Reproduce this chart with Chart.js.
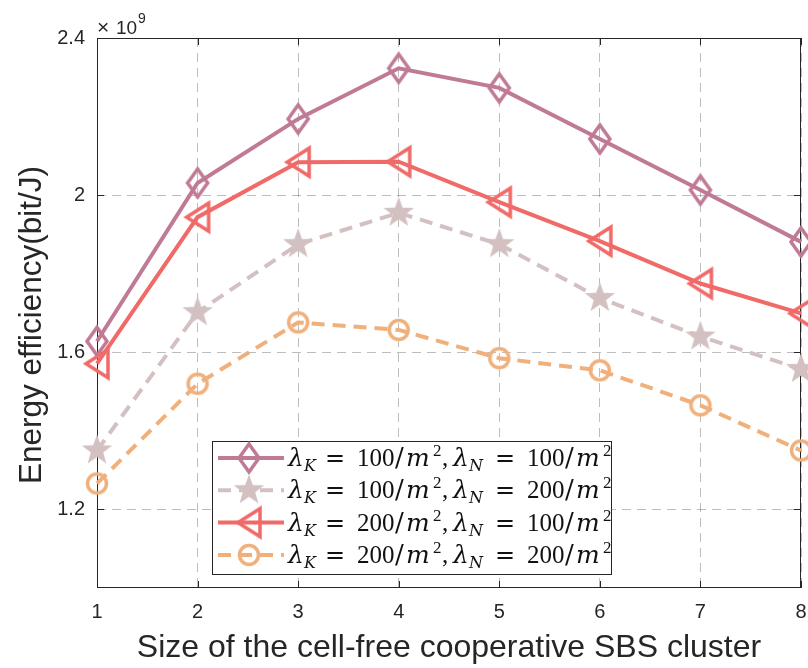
<!DOCTYPE html>
<html>
<head>
<meta charset="utf-8" />
<script src="https://cdn.jsdelivr.net/npm/chart.js@4.4.0/dist/chart.umd.min.js"></script>
<style>
  html, body { margin: 0; padding: 0; background: #fff; }
</style>
</head>
<body>
<canvas id="ee" width="808" height="668"></canvas>
<script type="text/javascript">
// cluster size on x, energy efficiency in units of 1e9 bit/J on y
var clusterSize = [1, 2, 3, 4, 5, 6, 7, 8];
var eeK100N100 = [1.628, 2.031, 2.194, 2.323, 2.273, 2.143, 2.013, 1.881];
var eeK100N200 = [1.350, 1.702, 1.875, 1.955, 1.875, 1.738, 1.640, 1.557];
var eeK200N100 = [1.571, 1.944, 2.084, 2.085, 1.982, 1.883, 1.775, 1.699];
var eeK200N200 = [1.266, 1.520, 1.676, 1.657, 1.585, 1.554, 1.465, 1.350];
var yTicks = [1.2, 1.6, 2, 2.4];
var legendK = ['100', '100', '200', '200'];
var legendN = ['100', '200', '100', '200'];

var cPurple = '#c07a96';
var cGrey = '#d3c1c2';
var cRed = '#f06a68';
var cOrange = '#f0b07c';
var axisCol = '#262626';
var sans = '"Liberation Sans", Arial, sans-serif';

// marker images, roughly like matlab's open markers
function makeMarker(kind, color) {
  var c = document.createElement('canvas');
  c.width = 36; c.height = 36;
  var g = c.getContext('2d');
  g.translate(18, 18);
  g.strokeStyle = color;
  g.fillStyle = color;
  g.lineWidth = 3.5;
  g.beginPath();
  if (kind == 'diamond') {
    g.moveTo(0, -14); g.lineTo(10, 0); g.lineTo(0, 14); g.lineTo(-10, 0);
    g.closePath(); g.stroke();
  } else if (kind == 'triangle') {
    g.moveTo(-11, 0); g.lineTo(11, -14); g.lineTo(11, 14);
    g.closePath(); g.stroke();
  } else if (kind == 'circle') {
    g.arc(0, 0, 9.5, 0, Math.PI * 2); g.stroke();
  } else {
    for (var i = 0; i < 10; i++) {
      var r = (i % 2 == 0) ? 16 : 6.5;
      var a = -Math.PI / 2 + i * Math.PI / 5;
      if (i == 0) g.moveTo(r * Math.cos(a), r * Math.sin(a));
      else g.lineTo(r * Math.cos(a), r * Math.sin(a));
    }
    g.closePath(); g.fill();
  }
  return c;
}

var mDiamond = makeMarker('diamond', cPurple);
var mStar = makeMarker('star', cGrey);
var mTri = makeMarker('triangle', cRed);
var mCircle = makeMarker('circle', cOrange);

function pts(arr) {
  var out = [];
  for (var i = 0; i < clusterSize.length; i++) out.push({x: clusterSize[i], y: arr[i]});
  return out;
}

// small pointRadius so chart.js does not reserve extra room at the edges,
// the marker canvas is drawn at its own size anyway
function series(arr, color, marker, dash, ord) {
  return {
    data: pts(arr),
    borderColor: color,
    backgroundColor: color,
    borderWidth: 4,
    borderDash: dash,
    pointStyle: marker,
    pointRadius: 3,
    pointHoverRadius: 3,
    pointBorderWidth: 0,
    fill: false,
    tension: 0,
    clip: false,
    order: ord
  };
}

var legendRows = [
  {color: cPurple, marker: mDiamond, dash: []},
  {color: cGrey, marker: mStar, dash: [13, 8]},
  {color: cRed, marker: mTri, dash: []},
  {color: cOrange, marker: mCircle, dash: [13, 8]}
];

// lambda_K = 100/m^2, lambda_N = 100/m^2 , pieces placed like the latex output
var serifR = '25px "Liberation Serif", serif';
var serifI = 'italic 25px "DejaVu Serif", serif';
var serifS = '17px "Liberation Serif", serif';
var serifSI = 'italic 16px "DejaVu Serif", serif';
var eqFont = '24px "DejaVu Serif", serif';
var slashFont = '26px "DejaVu Serif", serif';
function mathLabel(ctx, x, y, k, n) {
  var parts = [
    [0, '\u03bb', serifI, 0], [16, 'K', serifSI, 5], [37, '=', eqFont, 0],
    [69, k, serifR, 0], [107, '/', slashFont, 0], [118, 'm', serifI, 0], [145, '2', serifS, -10], [154, ',', serifR, 0],
    [165, '\u03bb', serifI, 0], [181, 'N', serifSI, 5], [207, '=', eqFont, 0],
    [239, n, serifR, 0], [277, '/', slashFont, 0], [288, 'm', serifI, 0], [315, '2', serifS, -10]
  ];
  for (var i = 0; i < parts.length; i++) {
    ctx.font = parts[i][2];
    ctx.fillText(parts[i][1], x + parts[i][0], y + parts[i][3]);
  }
}

var extras = {
  id: 'extras',
  beforeDatasetsDraw: function(chart) {
    var a = chart.chartArea, ctx = chart.ctx;
    var xs = chart.scales.x, ys = chart.scales.y;
    ctx.save();
    ctx.strokeStyle = axisCol;
    ctx.lineWidth = 1;
    ctx.strokeRect(a.left + 0.5, a.top + 0.5, a.right - a.left - 1, a.bottom - a.top - 1);
    ctx.beginPath();
    for (var i = 0; i < clusterSize.length; i++) {
      var px = Math.round(xs.getPixelForValue(clusterSize[i])) + 0.5;
      ctx.moveTo(px, a.bottom); ctx.lineTo(px, a.bottom - 7);
      ctx.moveTo(px, a.top); ctx.lineTo(px, a.top + 7);
    }
    for (var j = 0; j < yTicks.length; j++) {
      var py = Math.round(ys.getPixelForValue(yTicks[j])) + 0.5;
      ctx.moveTo(a.left, py); ctx.lineTo(a.left + 7, py);
      ctx.moveTo(a.right, py); ctx.lineTo(a.right - 7, py);
    }
    ctx.stroke();
    ctx.restore();
  },
  afterDraw: function(chart) {
    var a = chart.chartArea, ctx = chart.ctx;
    ctx.save();
    // exponent
    ctx.fillStyle = axisCol;
    ctx.textBaseline = 'alphabetic';
    ctx.font = '21px ' + sans;
    ctx.fillText('\u00d7', a.left, 34);
    ctx.font = '19px ' + sans;
    ctx.fillText('10', a.left + 19, 34);
    ctx.font = '14px ' + sans;
    ctx.fillText('9', a.left + 41, 23);

    // axis titles
    ctx.textAlign = 'center';
    ctx.textBaseline = 'middle';
    ctx.font = '32px ' + sans;
    ctx.fillText('Size of the cell-free cooperative SBS cluster', (a.left + a.right) / 2, 648);
    ctx.save();
    ctx.font = '31.5px ' + sans;
    ctx.translate(32, (a.top + a.bottom) / 2 + 12);
    ctx.rotate(-Math.PI / 2);
    ctx.fillText('Energy efficiency(bit/J)', 0, 0);
    ctx.restore();

    // legend box
    var bx = 212, by = 441, bw = 399, bh = 133;
    ctx.fillStyle = '#fff';
    ctx.fillRect(bx, by, bw, bh);
    ctx.strokeStyle = axisCol;
    ctx.lineWidth = 1;
    ctx.strokeRect(bx + 0.5, by + 0.5, bw, bh);
    ctx.textAlign = 'left';
    ctx.textBaseline = 'alphabetic';
    for (var i = 0; i < legendRows.length; i++) {
      var r = legendRows[i];
      var cy = 458 + i * 32.3;
      ctx.strokeStyle = r.color;
      ctx.lineWidth = 4;
      ctx.setLineDash(r.dash);
      ctx.beginPath();
      ctx.moveTo(218, cy); ctx.lineTo(284, cy);
      ctx.stroke();
      ctx.setLineDash([]);
      ctx.drawImage(r.marker, 249 - 18, cy - 18);
      ctx.fillStyle = '#111';
      mathLabel(ctx, 288, cy + 8, legendK[i], legendN[i]);
    }
    ctx.restore();
  }
};

var ctx = document.getElementById('ee').getContext('2d');
var chart = new Chart(ctx, {
  type: 'line',
  data: {
    datasets: [
      series(eeK100N100, cPurple, mDiamond, [], 4),
      series(eeK100N200, cGrey, mStar, [13, 8], 3),
      series(eeK200N100, cRed, mTri, [], 2),
      series(eeK200N200, cOrange, mCircle, [13, 8], 1)
    ]
  },
  options: {
    responsive: false,
    animation: false,
    devicePixelRatio: 1,
    layout: { padding: { left: 0, top: 38, right: 7, bottom: 0 } },
    plugins: { legend: { display: false }, tooltip: { enabled: false } },
    scales: {
      x: {
        type: 'linear',
        min: 1, max: 8,
        afterFit: function(s) { s.height = 80; s.paddingLeft = 0; s.paddingRight = 0; },
        afterBuildTicks: function(s) { s.ticks = clusterSize.map(function(v) { return {value: v}; }); },
        ticks: { color: axisCol, font: { size: 20, family: sans }, padding: 12, maxRotation: 0 },
        grid: { color: 'rgba(0,0,0,0.26)', lineWidth: 1, drawTicks: false },
        border: { display: false, dash: [9, 6] }
      },
      y: {
        type: 'linear',
        min: 1.0, max: 2.4,
        afterFit: function(s) { s.width = 97; s.paddingTop = 0; s.paddingBottom = 0; },
        afterBuildTicks: function(s) { s.ticks = yTicks.map(function(v) { return {value: v}; }); },
        ticks: { color: axisCol, font: { size: 20, family: sans }, padding: 12,
          callback: function(v) { return String(v); } },
        grid: { color: 'rgba(0,0,0,0.26)', lineWidth: 1, drawTicks: false },
        border: { display: false, dash: [9, 6] }
      }
    }
  },
  plugins: [extras]
});
</script>
</body>
</html>
